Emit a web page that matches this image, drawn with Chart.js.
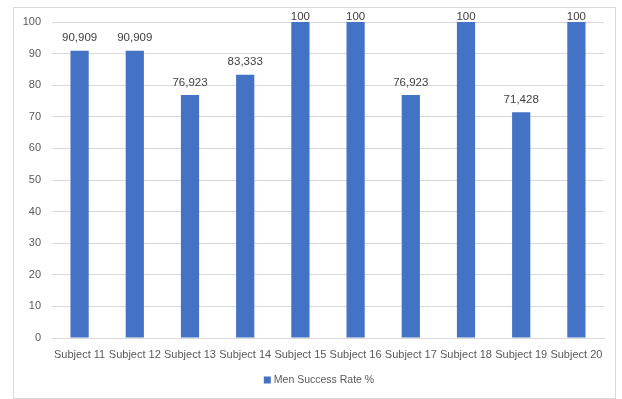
<!DOCTYPE html>
<html>
<head>
<meta charset="utf-8">
<script src="https://cdn.jsdelivr.net/npm/chart.js@4"></script>
<style>
  html, body { margin: 0; padding: 0; background: #fff; }
  #wrap {
    position: absolute;
    left: 13px;
    top: 7px;
    width: 601px;
    height: 390px;
    border: 1px solid #d9d9d9;
  }
</style>
</head>
<body>
<div id="wrap"><canvas id="chart"></canvas></div>
<script>
const subjects = ['Subject 11', 'Subject 12', 'Subject 13', 'Subject 14', 'Subject 15',
                  'Subject 16', 'Subject 17', 'Subject 18', 'Subject 19', 'Subject 20'];
const successRate = [90.909, 90.909, 76.923, 83.333, 100, 100, 76.923, 100, 71.428, 100];
const yTicks = [0, 10, 20, 30, 40, 50, 60, 70, 80, 90, 100];

const fontFamily = '"Liberation Sans", Arial, sans-serif';

// value labels above each bar, comma as decimal separator
const barLabels = {
  id: 'barLabels',
  afterDatasetsDraw(chart) {
    const ctx = chart.ctx;
    const meta = chart.getDatasetMeta(0);
    ctx.save();
    ctx.font = '11.5px ' + fontFamily;
    ctx.fillStyle = '#404040';
    ctx.textAlign = 'center';
    ctx.textBaseline = 'middle';
    meta.data.forEach((bar, i) => {
      const v = chart.data.datasets[0].data[i];
      const text = String(v).replace('.', ',');
      const y = Math.max(bar.y - 12.5, chart.chartArea.top - 5);
      ctx.fillText(text, bar.x, y);
    });
    ctx.restore();
  }
};

// legend entry under the axis labels
const bottomLegend = {
  id: 'bottomLegend',
  afterDraw(chart) {
    const ctx = chart.ctx;
    const ds = chart.data.datasets[0];
    const y = chart.height - 18;
    ctx.save();
    ctx.font = '10.5px ' + fontFamily;
    const w = ctx.measureText(ds.label).width;
    const x0 = chart.width / 2 + 4.5 - (w + 10) / 2;
    ctx.fillStyle = ds.backgroundColor;
    ctx.fillRect(x0, y - 3.5, 7, 7);
    ctx.fillStyle = '#595959';
    ctx.textAlign = 'left';
    ctx.textBaseline = 'middle';
    ctx.fillText(ds.label, x0 + 10, y);
    ctx.restore();
  }
};

new Chart(document.getElementById('chart'), {
  type: 'bar',
  data: {
    labels: subjects,
    datasets: [{
      label: 'Men Success Rate %',
      data: successRate,
      backgroundColor: '#4472c4',
      borderWidth: 0,
      barPercentage: 0.33,
      categoryPercentage: 1
    }]
  },
  options: {
    responsive: true,
    maintainAspectRatio: false,
    animation: false,
    layout: { padding: { left: 0, top: 14, right: 11, bottom: 33 } },
    plugins: {
      tooltip: { enabled: false },
      legend: { display: false }
    },
    scales: {
      x: {
        grid: { display: false, drawTicks: false },
        border: { display: true, color: '#d9d9d9' },
        ticks: {
          color: '#595959',
          padding: 10,
          maxRotation: 0,
          autoSkip: false,
          font: { family: fontFamily, size: 11 }
        },
        afterFit(scale) { scale.height = 27; }
      },
      y: {
        min: 0,
        max: 100,
        grid: { color: '#d9d9d9', drawTicks: false },
        border: { display: false },
        afterBuildTicks(scale) { scale.ticks = yTicks.map(v => ({ value: v })); },
        ticks: {
          color: '#595959',
          padding: 11,
          font: { family: fontFamily, size: 11 }
        },
        afterFit(scale) {
          scale.width = 38;
          scale.paddingTop = 0;
          scale.paddingBottom = 0;
        }
      }
    }
  },
  plugins: [barLabels, bottomLegend]
});
</script>
</body>
</html>
